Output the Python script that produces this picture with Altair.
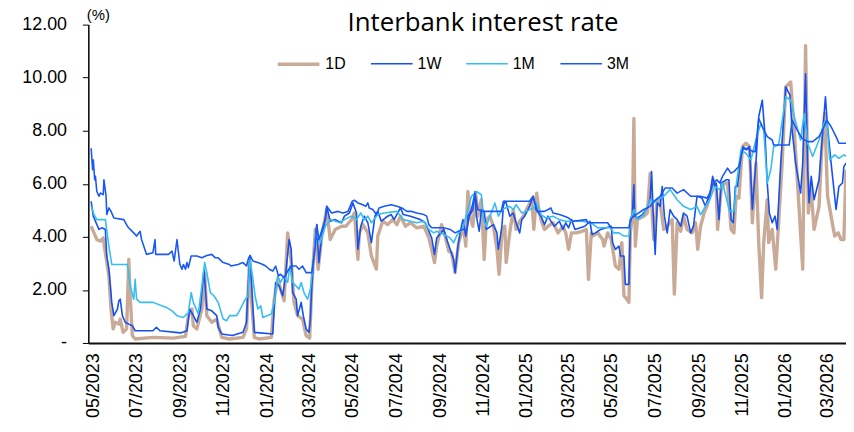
import altair as alt
import pandas as pd

TITLE = "Interbank interest rate"
SERIES = ["1D", "1W", "1M", "3M"]
COLORS = ["#C9AA97", "#1450F2", "#35BEF2", "#1A58F8"]
WIDTHS = [3.4, 1.6, 1.6, 1.6]
Y_TICKS = [0, 2, 4, 6, 8, 10, 12]

RATE_1D = [("2023-04-28",4.40),("2023-05-02",4.15),("2023-05-06",3.90),("2023-05-11",3.84),("2023-05-15",3.96),("2023-05-18",3.40),("2023-05-23",2.53),("2023-05-26",1.28),("2023-05-29",0.53),("2023-06-01",0.78),("2023-06-06",0.71),("2023-06-08",0.90),("2023-06-12",0.40),("2023-06-17",0.53),("2023-06-20",3.15),("2023-06-22",1.78),("2023-06-25",0.28),("2023-06-29",0.15),("2023-07-24",0.21),("2023-08-22",0.18),("2023-09-08",0.25),("2023-09-12",1.03),("2023-09-17",1.28),("2023-09-19",0.65),("2023-09-24",0.53),("2023-10-01",1.28),("2023-10-05",2.65),("2023-10-08",1.03),("2023-10-15",0.78),("2023-10-22",0.90),("2023-10-29",0.21),("2023-11-09",0.15),("2023-11-28",0.21),("2023-12-03",0.53),("2023-12-07",3.03),("2023-12-11",1.28),("2023-12-14",0.21),("2023-12-21",0.15),("2024-01-07",0.21),("2024-01-11",1.65),("2024-01-16",2.40),("2024-01-20",2.03),("2024-01-25",1.59),("2024-01-30",4.15),("2024-02-04",3.03),("2024-02-08",1.53),("2024-02-13",1.03),("2024-02-20",0.90),("2024-02-25",0.28),("2024-03-01",0.18),("2024-03-04",2.15),("2024-03-09",4.28),("2024-03-13",2.78),("2024-03-18",4.03),("2024-03-25",5.03),("2024-03-30",3.90),("2024-04-06",4.28),("2024-04-15",4.40),("2024-04-21",4.40),("2024-04-29",4.65),("2024-05-03",4.90),("2024-05-08",3.15),("2024-05-10",4.15),("2024-05-15",4.46),("2024-05-22",4.15),("2024-05-27",3.28),("2024-06-03",2.78),("2024-06-05",4.03),("2024-06-12",4.59),("2024-06-19",4.46),("2024-06-26",4.65),("2024-07-02",4.46),("2024-07-07",4.78),("2024-07-14",4.40),("2024-07-21",4.53),("2024-07-30",4.34),("2024-08-09",4.40),("2024-08-16",3.96),("2024-08-20",3.53),("2024-08-24",3.03),("2024-08-27",3.65),("2024-09-03",4.46),("2024-09-08",4.03),("2024-09-13",3.46),("2024-09-17",3.40),("2024-09-22",2.65),("2024-09-27",3.78),("2024-10-04",4.40),("2024-10-07",3.65),("2024-10-10",5.71),("2024-10-13",4.78),("2024-10-17",4.40),("2024-10-21",5.65),("2024-10-24",4.78),("2024-10-29",5.40),("2024-11-02",3.15),("2024-11-05",4.65),("2024-11-10",4.78),("2024-11-15",4.40),("2024-11-20",3.53),("2024-11-23",2.59),("2024-11-27",4.15),("2024-12-01",4.40),("2024-12-03",3.03),("2024-12-08",4.15),("2024-12-13",5.03),("2024-12-17",4.28),("2024-12-22",4.59),("2024-12-27",4.78),("2025-01-03",5.15),("2025-01-08",5.40),("2025-01-11",4.28),("2025-01-15",5.65),("2025-01-18",5.03),("2025-01-21",4.65),("2025-01-26",4.28),("2025-01-31",4.40),("2025-02-07",4.53),("2025-02-14",4.15),("2025-02-21",4.40),("2025-02-25",4.15),("2025-03-01",3.53),("2025-03-05",4.15),("2025-03-12",4.15),("2025-03-20",4.21),("2025-03-26",4.28),("2025-03-29",2.40),("2025-04-02",4.15),("2025-04-04",4.03),("2025-04-11",4.15),("2025-04-18",3.90),("2025-04-20",3.65),("2025-04-25",4.15),("2025-04-30",3.90),("2025-05-03",3.40),("2025-05-06",2.90),("2025-05-11",2.78),("2025-05-15",3.78),("2025-05-18",1.78),("2025-05-22",1.65),("2025-05-25",1.53),("2025-05-27",4.15),("2025-05-30",4.78),("2025-06-01",8.46),("2025-06-03",3.65),("2025-06-06",4.65),("2025-06-15",4.78),("2025-06-20",4.90),("2025-06-24",6.40),("2025-06-27",4.78),("2025-06-29",3.90),("2025-07-04",5.40),("2025-07-08",5.28),("2025-07-13",4.28),("2025-07-18",4.40),("2025-07-25",4.65),("2025-07-28",1.84),("2025-08-01",4.53),("2025-08-06",4.21),("2025-08-10",4.78),("2025-08-15",4.28),("2025-08-22",4.15),("2025-08-27",4.53),("2025-08-30",3.53),("2025-09-03",4.40),("2025-09-08",4.90),("2025-09-12",5.15),("2025-09-16",5.53),("2025-09-21",6.15),("2025-09-25",5.90),("2025-09-27",4.28),("2025-10-02",5.78),("2025-10-07",6.03),("2025-10-11",6.03),("2025-10-16",4.28),("2025-10-20",4.15),("2025-10-23",5.53),("2025-10-27",5.46),("2025-11-01",7.40),("2025-11-06",7.53),("2025-11-11",7.40),("2025-11-15",4.53),("2025-11-20",6.78),("2025-11-24",3.78),("2025-11-28",1.71),("2025-12-01",3.78),("2025-12-06",5.40),("2025-12-08",3.78),("2025-12-13",4.28),("2025-12-18",2.78),("2025-12-22",4.53),("2025-12-27",6.78),("2026-01-01",9.65),("2026-01-08",9.84),("2026-01-13",8.03),("2026-01-20",5.03),("2026-01-25",2.78),("2026-01-29",11.21),("2026-02-02",4.90),("2026-02-05",6.03),("2026-02-10",4.28),("2026-02-17",5.15),("2026-02-21",7.40),("2026-02-25",8.65),("2026-03-01",5.53),("2026-03-06",4.78),("2026-03-11",4.03),("2026-03-16",4.15),("2026-03-20",3.90),("2026-03-24",3.90),("2026-03-27",6.53)]

RATE_1W = [("2023-04-28",5.34),("2023-05-01",4.78),("2023-05-04",4.59),("2023-05-09",4.28),("2023-05-13",4.34),("2023-05-18",4.28),("2023-05-20",3.28),("2023-05-23",2.78),("2023-05-27",1.53),("2023-05-30",1.03),("2023-06-04",1.28),("2023-06-06",1.59),("2023-06-08",1.65),("2023-06-11",1.03),("2023-06-15",0.78),("2023-06-20",0.71),("2023-06-25",0.65),("2023-06-29",0.46),("2023-07-24",0.46),("2023-07-29",0.59),("2023-08-03",0.46),("2023-09-01",0.38),("2023-09-10",0.46),("2023-09-14",1.28),("2023-09-19",1.03),("2023-09-24",0.78),("2023-09-29",1.28),("2023-10-04",2.78),("2023-10-08",1.28),("2023-10-15",1.21),("2023-10-22",1.03),("2023-10-24",0.59),("2023-10-29",0.34),("2023-11-13",0.28),("2023-11-28",0.40),("2023-12-03",0.78),("2023-12-05",2.03),("2023-12-08",3.28),("2023-12-11",1.78),("2023-12-14",0.40),("2024-01-09",0.34),("2024-01-13",2.28),("2024-01-18",2.15),("2024-01-23",1.78),("2024-01-27",2.53),("2024-02-01",3.90),("2024-02-04",3.53),("2024-02-06",1.90),("2024-02-11",1.65),("2024-02-13",1.03),("2024-02-18",1.53),("2024-02-21",1.03),("2024-02-25",0.53),("2024-02-29",0.40),("2024-03-02",0.90),("2024-03-04",2.15),("2024-03-07",3.28),("2024-03-11",4.46),("2024-03-14",3.03),("2024-03-18",4.03),("2024-03-23",4.65),("2024-03-25",5.15),("2024-03-30",4.59),("2024-04-06",4.65),("2024-04-15",4.53),("2024-04-19",4.78),("2024-04-26",4.90),("2024-05-01",5.28),("2024-05-06",4.90),("2024-05-08",3.53),("2024-05-12",4.40),("2024-05-17",4.78),("2024-05-22",4.53),("2024-05-27",3.78),("2024-06-01",4.78),("2024-06-05",4.96),("2024-06-10",4.59),("2024-06-19",4.78),("2024-06-24",4.84),("2024-06-28",4.65),("2024-07-07",5.09),("2024-07-11",4.84),("2024-07-21",4.78),("2024-08-04",4.65),("2024-08-11",4.53),("2024-08-16",4.21),("2024-08-20",3.96),("2024-08-24",3.34),("2024-08-27",3.96),("2024-09-02",4.15),("2024-09-06",4.28),("2024-09-11",3.84),("2024-09-15",3.53),("2024-09-20",3.15),("2024-09-22",2.65),("2024-09-26",3.65),("2024-09-29",4.15),("2024-10-03",4.65),("2024-10-07",4.03),("2024-10-12",4.78),("2024-10-17",5.03),("2024-10-20",5.71),("2024-10-22",4.78),("2024-10-26",4.21),("2024-10-29",5.03),("2024-11-02",4.96),("2024-11-05",4.28),("2024-11-15",4.46),("2024-11-20",4.15),("2024-11-22",3.53),("2024-11-27",4.40),("2024-11-29",5.15),("2024-12-01",5.34),("2024-12-03",5.28),("2024-12-08",4.78),("2024-12-13",4.90),("2024-12-17",4.53),("2024-12-22",4.15),("2024-12-25",4.65),("2024-12-29",4.78),("2025-01-05",5.15),("2025-01-10",5.53),("2025-01-14",5.03),("2025-01-21",4.78),("2025-01-26",4.46),("2025-01-31",4.78),("2025-02-04",4.59),("2025-02-09",4.40),("2025-02-16",4.59),("2025-02-21",4.28),("2025-02-25",4.53),("2025-03-01",4.34),("2025-03-05",4.65),("2025-03-10",4.28),("2025-03-24",4.40),("2025-03-31",4.59),("2025-04-03",4.09),("2025-04-08",4.15),("2025-04-15",4.28),("2025-04-30",4.40),("2025-05-02",3.78),("2025-05-06",3.53),("2025-05-11",3.65),("2025-05-13",3.28),("2025-05-18",3.28),("2025-05-20",2.21),("2025-05-25",2.21),("2025-05-27",4.53),("2025-05-30",4.90),("2025-06-01",5.96),("2025-06-02",4.78),("2025-06-06",4.71),("2025-06-13",4.84),("2025-06-20",5.09),("2025-06-24",5.46),("2025-06-26",6.46),("2025-06-28",5.03),("2025-07-01",3.34),("2025-07-04",5.28),("2025-07-08",5.15),("2025-07-11",5.90),("2025-07-14",4.78),("2025-07-18",4.15),("2025-07-22",5.03),("2025-07-27",4.78),("2025-08-01",4.65),("2025-08-06",4.40),("2025-08-10",4.90),("2025-08-15",4.78),("2025-08-20",4.15),("2025-08-24",4.40),("2025-08-29",5.53),("2025-09-05",5.46),("2025-09-10",5.15),("2025-09-13",5.40),("2025-09-16",5.53),("2025-09-20",6.28),("2025-09-23",5.90),("2025-09-25",6.03),("2025-09-29",4.65),("2025-10-02",6.03),("2025-10-09",6.15),("2025-10-13",6.15),("2025-10-16",4.65),("2025-10-19",4.53),("2025-10-22",5.90),("2025-10-25",5.90),("2025-10-30",7.03),("2025-11-02",7.40),("2025-11-06",7.28),("2025-11-11",7.40),("2025-11-15",5.03),("2025-11-20",6.78),("2025-11-24",8.53),("2025-11-29",9.15),("2025-12-03",7.78),("2025-12-06",6.03),("2025-12-09",4.90),("2025-12-13",4.53),("2025-12-17",4.78),("2025-12-20",4.28),("2025-12-25",6.78),("2026-01-01",9.65),("2026-01-07",9.34),("2026-01-10",8.03),("2026-01-15",6.78),("2026-01-19",6.15),("2026-01-22",5.65),("2026-01-25",6.78),("2026-01-29",10.15),("2026-02-01",6.53),("2026-02-03",5.28),("2026-02-06",6.28),("2026-02-10",5.40),("2026-02-17",6.15),("2026-02-21",7.53),("2026-02-26",9.28),("2026-03-01",8.15),("2026-03-06",6.78),("2026-03-13",5.03),("2026-03-17",5.90),("2026-03-22",6.03),("2026-03-24",6.65),("2026-03-27",6.78)]

RATE_1M = [("2023-04-28",5.15),("2023-05-02",4.84),("2023-05-06",4.65),("2023-05-18",4.65),("2023-05-23",3.65),("2023-05-27",2.96),("2023-06-18",2.96),("2023-06-22",2.15),("2023-06-27",1.65),("2023-06-29",2.40),("2023-07-01",1.65),("2023-07-06",1.53),("2023-07-24",1.53),("2023-08-12",1.34),("2023-08-20",1.21),("2023-08-27",1.03),("2023-09-05",0.96),("2023-09-12",1.15),("2023-09-16",1.90),("2023-09-19",1.53),("2023-09-26",1.09),("2023-10-01",2.15),("2023-10-05",3.03),("2023-10-08",2.65),("2023-10-13",1.90),("2023-10-18",1.78),("2023-10-24",1.53),("2023-10-31",0.90),("2023-11-05",0.84),("2023-11-09",1.03),("2023-11-19",1.03),("2023-11-23",1.21),("2023-11-30",1.59),("2023-12-05",1.78),("2023-12-08",3.15),("2023-12-12",2.40),("2023-12-15",1.78),("2023-12-19",1.28),("2023-12-23",1.40),("2023-12-26",0.96),("2024-01-07",1.09),("2024-01-11",1.53),("2024-01-16",2.53),("2024-01-20",2.28),("2024-01-25",2.53),("2024-01-30",2.28),("2024-02-02",2.90),("2024-02-06",2.28),("2024-02-15",2.03),("2024-02-18",2.28),("2024-02-22",1.90),("2024-02-27",1.65),("2024-03-02",2.03),("2024-03-07",3.28),("2024-03-10",4.15),("2024-03-16",3.78),("2024-03-23",4.40),("2024-03-30",4.65),("2024-04-13",4.53),("2024-04-19",4.65),("2024-04-29",4.78),("2024-05-06",4.65),("2024-05-12",4.90),("2024-05-17",4.65),("2024-05-22",4.78),("2024-05-27",4.53),("2024-06-05",4.84),("2024-06-14",4.90),("2024-07-02",4.96),("2024-07-11",4.65),("2024-07-30",4.53),("2024-08-09",4.59),("2024-08-16",4.28),("2024-08-23",4.15),("2024-08-27",4.21),("2024-09-06",4.09),("2024-09-15",3.96),("2024-09-20",3.78),("2024-09-25",4.09),("2024-10-02",4.28),("2024-10-10",5.03),("2024-10-15",5.53),("2024-10-22",5.71),("2024-10-29",5.59),("2024-11-01",4.65),("2024-11-05",4.40),("2024-11-12",4.90),("2024-11-17",5.28),("2024-11-22",4.78),("2024-11-27",5.03),("2024-12-08",5.15),("2024-12-13",5.03),("2024-12-17",5.21),("2024-12-25",4.90),("2024-12-31",4.96),("2025-01-10",5.09),("2025-01-15",5.28),("2025-01-21",4.84),("2025-01-28",4.71),("2025-02-07",4.78),("2025-02-16",4.65),("2025-02-25",4.59),("2025-03-20",4.59),("2025-04-02",4.53),("2025-04-11",4.34),("2025-04-30",4.34),("2025-05-03",4.15),("2025-05-11",4.15),("2025-05-18",4.03),("2025-05-25",4.03),("2025-05-27",4.65),("2025-06-01",5.03),("2025-06-06",4.65),("2025-06-15",4.84),("2025-06-24",5.40),("2025-06-29",5.28),("2025-07-04",5.40),("2025-07-13",5.53),("2025-07-22",5.78),("2025-08-01",5.40),("2025-08-10",5.15),("2025-08-20",5.03),("2025-08-29",5.15),("2025-09-03",4.84),("2025-09-10",5.15),("2025-09-16",5.40),("2025-09-23",5.90),("2025-09-30",5.78),("2025-10-04",6.03),("2025-10-14",4.96),("2025-10-20",4.96),("2025-10-23",5.90),("2025-10-30",7.28),("2025-11-06",7.15),("2025-11-13",6.90),("2025-11-20",7.65),("2025-11-27",8.28),("2025-12-01",8.03),("2025-12-06",6.03),("2025-12-11",6.53),("2025-12-15",7.40),("2025-12-22",7.46),("2026-01-01",9.28),("2026-01-08",9.15),("2026-01-13",8.53),("2026-01-22",7.65),("2026-01-27",8.65),("2026-02-01",7.53),("2026-02-08",7.03),("2026-02-17",7.65),("2026-02-24",8.28),("2026-02-28",8.40),("2026-03-04",6.90),("2026-03-11",7.09),("2026-03-17",6.96),("2026-03-24",7.09),("2026-03-27",7.03)]

RATE_3M = [("2023-04-28",7.34),("2023-04-30",6.53),("2023-05-01",6.90),("2023-05-03",6.15),("2023-05-04",6.28),("2023-05-06",5.71),("2023-05-09",5.53),("2023-05-11",5.65),("2023-05-15",5.59),("2023-05-16",6.15),("2023-05-19",5.53),("2023-05-20",4.84),("2023-05-23",5.09),("2023-05-26",4.96),("2023-05-30",4.71),("2023-06-13",4.65),("2023-06-18",4.40),("2023-06-22",4.28),("2023-06-27",4.15),("2023-07-01",4.03),("2023-07-06",4.21),("2023-07-08",3.90),("2023-07-15",3.34),("2023-07-24",3.40),("2023-07-27",3.90),("2023-07-28",3.34),("2023-08-15",3.34),("2023-08-20",3.46),("2023-08-23",3.09),("2023-08-27",3.90),("2023-08-31",2.96),("2023-09-03",2.78),("2023-09-05",2.96),("2023-09-08",2.78),("2023-09-10",3.03),("2023-09-12",2.84),("2023-09-16",3.28),("2023-09-24",3.28),("2023-10-01",3.21),("2023-10-08",3.30),("2023-10-15",3.34),("2023-10-20",3.21),("2023-10-24",3.21),("2023-10-31",3.03),("2023-11-09",2.96),("2023-11-11",2.90),("2023-11-21",2.96),("2023-11-28",3.03),("2023-12-03",2.90),("2023-12-06",3.21),("2023-12-08",3.30),("2023-12-12",3.09),("2023-12-19",3.03),("2023-12-26",2.96),("2023-12-30",2.90),("2024-01-04",2.78),("2024-01-09",2.71),("2024-01-13",2.90),("2024-01-17",2.53),("2024-01-20",2.59),("2024-01-25",2.46),("2024-01-30",2.71),("2024-02-04",2.90),("2024-02-11",2.90),("2024-02-15",2.78),("2024-02-20",2.90),("2024-02-25",2.65),("2024-03-04",2.65),("2024-03-09",3.65),("2024-03-11",4.46),("2024-03-14",3.90),("2024-03-23",4.65),("2024-03-25",5.15),("2024-04-01",4.90),("2024-04-10",4.96),("2024-04-17",4.90),("2024-04-24",4.96),("2024-04-30",5.34),("2024-05-03",5.38),("2024-05-08",5.28),("2024-05-15",5.21),("2024-05-19",5.15),("2024-05-22",5.28),("2024-05-24",5.09),("2024-05-29",5.03),("2024-06-03",4.84),("2024-06-07",5.09),("2024-06-14",5.15),("2024-06-24",5.21),("2024-07-02",5.15),("2024-07-09",5.09),("2024-07-16",4.96),("2024-07-23",4.96),("2024-07-30",4.90),("2024-08-09",4.84),("2024-08-13",4.78),("2024-08-16",4.46),("2024-08-20",4.34),("2024-09-06",4.34),("2024-09-15",4.28),("2024-09-22",4.15),("2024-10-02",4.28),("2024-10-09",4.28),("2024-10-10",4.78),("2024-10-15",5.03),("2024-10-20",5.65),("2024-10-24",5.03),("2024-11-01",4.96),("2024-11-26",4.96),("2024-11-29",5.34),("2025-01-05",5.34),("2025-01-10",5.53),("2025-01-16",4.96),("2025-01-26",4.96),("2025-02-04",5.09),("2025-02-07",4.90),("2025-02-16",4.84),("2025-02-23",4.78),("2025-03-01",4.71),("2025-03-07",4.59),("2025-03-26",4.65),("2025-03-28",4.53),("2025-04-25",4.53),("2025-04-30",4.34),("2025-05-25",4.34),("2025-05-27",4.65),("2025-06-01",4.78),("2025-06-15",5.03),("2025-06-24",5.15),("2025-06-29",5.34),("2025-07-08",5.53),("2025-07-15",5.84),("2025-07-25",5.84),("2025-08-01",5.65),("2025-08-10",5.78),("2025-08-20",5.53),("2025-09-03",5.53),("2025-09-12",5.46),("2025-09-16",5.65),("2025-09-21",6.03),("2025-09-26",6.15),("2025-09-30",6.03),("2025-10-04",6.28),("2025-10-11",6.59),("2025-10-16",6.40),("2025-10-20",6.46),("2025-10-27",6.65),("2025-11-01",7.28),("2025-11-06",7.34),("2025-11-17",7.21),("2025-11-19",7.21),("2025-11-24",8.46),("2025-11-29",8.15),("2025-12-06",7.78),("2025-12-13",7.65),("2025-12-15",7.46),("2026-01-06",7.46),("2026-01-10",8.40),("2026-01-17",8.03),("2026-01-24",7.71),("2026-02-01",7.59),("2026-02-08",7.59),("2026-02-17",7.78),("2026-02-24",8.15),("2026-02-28",8.40),("2026-03-06",8.15),("2026-03-13",7.78),("2026-03-17",7.53),("2026-03-27",7.53)]

frames = []
for name, pts in zip(SERIES, [RATE_1D, RATE_1W, RATE_1M, RATE_3M]):
    frames.append(pd.DataFrame({"date": [p[0] for p in pts],
                                "rate": [p[1] for p in pts],
                                "series": name}))
df = pd.concat(frames, ignore_index=True)

FONT = "Liberation Sans"
NB = "\u00a0"

legend = alt.Legend(
    title=None, orient="none", legendX=189, legendY=17, direction="horizontal",
    symbolType="stroke", symbolSize=1764, labelFontSize=16, labelFont=FONT,
    labelColor="#000000", labelOffset=4, columnPadding=21, padding=0,
)

lines = alt.Chart(df).mark_line(strokeJoin="round", clip=True).encode(
    x=alt.X("date:T",
            scale=alt.Scale(type="utc",
                            domain=[alt.DateTime(year=2023, month=4, date=24, utc=True),
                                    alt.DateTime(year=2026, month=3, date=27, utc=True)]),
            axis=alt.Axis(title=None,
                          labelExpr="utcFormat(datum.value, '%m/%Y')",
                          tickCount={"interval": "month", "step": 2},
                          labelAngle=270, labelAlign="right", labelBaseline="middle",
                          labelPadding=10, labelFontSize=18, labelFont=FONT,
                          labelColor="#000000", labelOverlap=False, labelFlush=False,
                          ticks=False, domainColor="#111111", domainWidth=2, grid=False)),
    y=alt.Y("rate:Q",
            scale=alt.Scale(domain=[0, 12], nice=False, zero=True),
            axis=alt.Axis(values=Y_TICKS, title="(%)", titleAngle=0, titleX=-2, titleY=-5,
                          titleAlign="left", titleBaseline="alphabetic", titleFontSize=15,
                          titleFontWeight="normal", titleFont=FONT, titleColor="#000000",
                          labelExpr=f"datum.value == 0 ? '-{NB}{NB}' : format(datum.value, '.2f')",
                          labelFontSize=18, labelFont=FONT, labelColor="#000000",
                          labelPadding=16, tickSize=6, tickColor="#000000",
                          domainColor="#000000", domainWidth=1.5, grid=False)),
    color=alt.Color("series:N", scale=alt.Scale(domain=SERIES, range=COLORS), legend=legend),
    strokeWidth=alt.StrokeWidth("series:N",
                                scale=alt.Scale(type="ordinal", domain=SERIES, range=WIDTHS),
                                legend=legend),
    detail="series:N",
)

title = alt.Chart(pd.DataFrame({"t": [TITLE]})).mark_text(
    font="Open Sans", fontSize=26, color="#000000", align="center", baseline="alphabetic"
).encode(text="t:N", x=alt.value(398), y=alt.value(6))

chart = alt.layer(lines, title).properties(
    width=764, height=321,
    padding={"left": 81, "top": 15, "right": 0, "bottom": 86},
    autosize=alt.AutoSizeParams(type="none"),
).configure_view(stroke=None)

chart.save("out.html", embed_options={"renderer": "svg", "actions": False})
